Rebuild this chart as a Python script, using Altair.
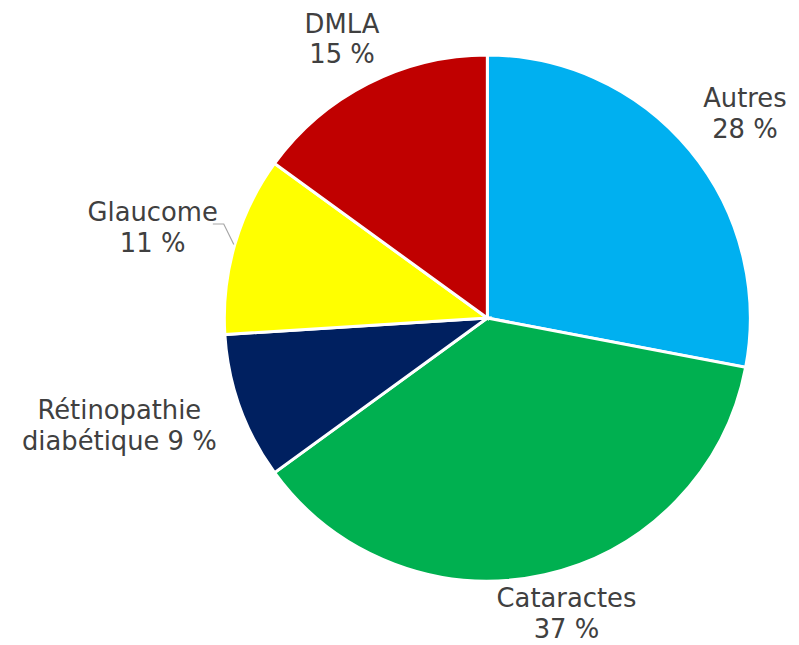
import math
import altair as alt
import pandas as pd

categories = ["Autres", "Cataractes", "Rétinopathie diabétique", "Glaucome", "DMLA"]
values = [28, 37, 9, 11, 15]
label_lines = [["Autres", "28 %"], ["Cataractes", "37 %"], ["Rétinopathie", "diabétique 9 %"],
               ["Glaucome", "11 %"], ["DMLA", "15 %"]]
colors = ["#00B0F0", "#00B050", "#002060", "#FFFF00", "#C00000"]
leader_for = ["Glaucome"]

FONT_SIZE = 26
LINE_H = 31
PIE_R = 265
LABEL_R = 294      # radius of the label anchor circle
HALF_H = 28        # half height of a two-line label
W = H = 600
PAD = {"left": 183, "top": 10, "right": 6, "bottom": 25}
CANVAS_W, CANVAS_H, MARGIN = 799, 645, 8

# bounds of the canvas relative to the pie centre (labels are kept inside)
cx0 = MARGIN + PAD["left"] + W / 2
cy0 = MARGIN + PAD["top"] + H / 2
bound_l, bound_r = 10 - cx0, CANVAS_W - 3 - cx0
bound_t, bound_b = MARGIN - cy0, CANVAS_H - 3 - cy0

total = sum(values)
rows = []
lead_pts = []
cum = 0
for i, (c, v, lines) in enumerate(zip(categories, values, label_lines)):
    start, end = cum, cum + v
    cum = end
    midv = (start + end) / 2
    mid = midv / total * 2 * math.pi
    s, co = math.sin(mid), math.cos(mid)
    hw = 0.275 * FONT_SIZE * max(len(t) for t in lines)
    lx = (LABEL_R + hw) * s
    ly = -(LABEL_R + HALF_H) * co
    lx = min(max(lx, bound_l + hw), bound_r - hw)
    ly = min(max(ly, bound_t + 30), bound_b - 25)
    if c in leader_for:
        r1, r2 = PIE_R + 1, PIE_R + 17
        p1 = (r1 * s, -r1 * co)
        p2 = (r2 * math.sin(mid + 0.06), -r2 * math.cos(mid + 0.06))
        side = 1 if s > 0 else -1
        p3 = (p2[0] + side * 11, p2[1])
        for k, p in enumerate([p1, p2, p3]):
            lead_pts.append({"cat": c, "k": k, "px": W / 2 + p[0], "py": H / 2 + p[1]})
    rows.append({"cat": c, "val": v, "start": start, "end": end,
                 "label": "\n".join(lines), "lx": W / 2 + lx, "ly": H / 2 + ly})
df = pd.DataFrame(rows)
lead_df = pd.DataFrame(lead_pts)

theta_scale = alt.Scale(domain=[0, total], range=[0, 2 * math.pi])

pie = alt.Chart(df).mark_arc(outerRadius=PIE_R, stroke="white", strokeWidth=3).encode(
    theta=alt.Theta("start:Q", scale=theta_scale, stack=None),
    theta2="end:Q",
    color=alt.Color("cat:N", scale=alt.Scale(domain=categories, range=colors), legend=None),
)

text = alt.Chart(df).mark_text(
    font="DejaVu Sans", fontSize=FONT_SIZE, color="#404040", lineBreak="\n",
    lineHeight=LINE_H, align="center", baseline="middle", dy=-LINE_H / 2
).encode(
    x=alt.X("lx:Q", scale=None),
    y=alt.Y("ly:Q", scale=None),
    text="label:N",
)

leader = alt.Chart(lead_df).mark_line(color="#A6A6A6", strokeWidth=1.2).encode(
    x=alt.X("px:Q", scale=None),
    y=alt.Y("py:Q", scale=None),
    order="k:Q",
    detail="cat:N",
)

chart = alt.layer(pie, leader, text).properties(
    width=W, height=H,
    autosize="none",
    padding=PAD,
).configure_view(stroke=None)

chart.save("out.html", embed_options={"renderer": "svg", "actions": False})
